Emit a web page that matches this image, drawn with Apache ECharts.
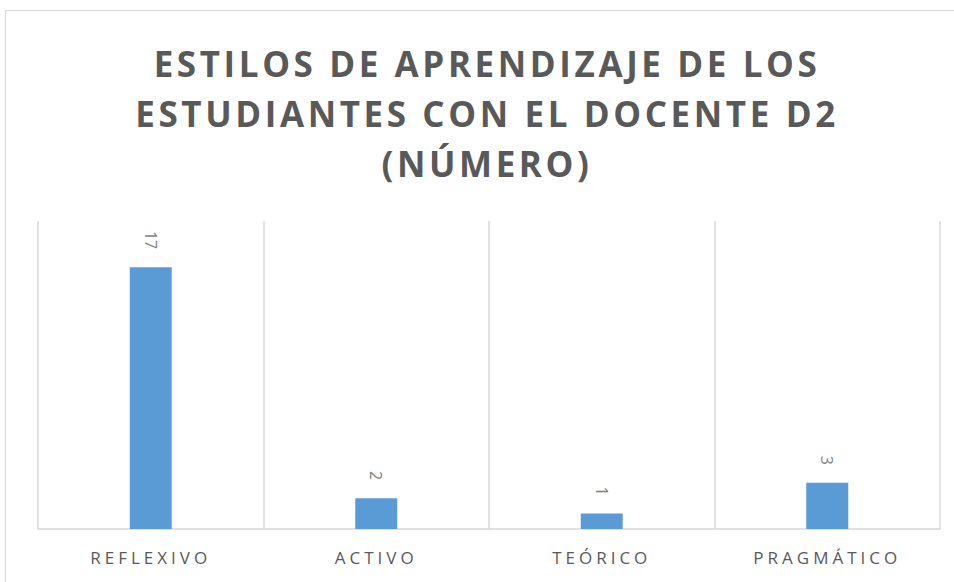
<!DOCTYPE html>
<html>
<head>
<meta charset="utf-8">
<script src="https://cdn.jsdelivr.net/npm/echarts@6/dist/echarts.min.js"></script>
<style>
html,body{margin:0;padding:0;background:#fff;}
#chart{width:954px;height:582px;}
</style>
</head>
<body>
<div id="chart"></div>
<script>
var categories = ['REFLEXIVO', 'ACTIVO', 'TEÓRICO', 'PRAGMÁTICO'];
var values = [17, 2, 1, 3];
var titleText = 'ESTILOS DE APRENDIZAJE DE LOS\nESTUDIANTES CON EL DOCENTE D2\n(NÚMERO)';

var chart = echarts.init(document.getElementById('chart'), null, {renderer: 'svg'});
chart.setOption({
    backgroundColor: '#fff',
    animation: false,
    graphic: [{
        type: 'rect',
        shape: {x: 5.5, y: 10.5, width: 960, height: 600},
        style: {fill: 'none', stroke: '#d9d9d9', lineWidth: 1},
        silent: true
    }],
    title: {
        text: titleText,
        left: 482,
        textAlign: 'center',
        top: 33,
        textStyle: {
            fontFamily: 'Open Sans',
            fontWeight: 'bold',
            fontSize: 35,
            lineHeight: 50,
            color: '#595959'
        }
    },
    grid: {left: 38, right: 14, top: 221, bottom: 53},
    xAxis: {
        type: 'category',
        data: categories,
        axisLine: {lineStyle: {color: '#d9d9d9', width: 1.5}},
        axisTick: {show: false},
        splitLine: {show: true, lineStyle: {color: '#d9d9d9', width: 1.5}},
        axisLabel: {
            color: '#595959',
            fontFamily: 'Open Sans',
            fontSize: 17,
            margin: 20
        }
    },
    yAxis: {
        type: 'value',
        min: 0,
        max: 20,
        show: false,
        splitLine: {show: false}
    },
    series: [{
        type: 'bar',
        data: values,
        barWidth: 42,
        itemStyle: {color: '#5b9bd5'},
        label: {
            show: true,
            position: 'top',
            rotate: -90,
            align: 'right',
            verticalAlign: 'middle',
            distance: 18,
            color: '#7f7f7f',
            fontFamily: 'Open Sans',
            fontSize: 16
        }
    }]
});

// espaciado de letras como en el original
function spacing() {
    var list = document.querySelectorAll('#chart svg text');
    for (var i = 0; i < list.length; i++) {
        var fs = parseFloat(getComputedStyle(list[i]).fontSize);
        if (fs >= 30) list[i].style.letterSpacing = '3.6px';
        else if (fs == 17) list[i].style.letterSpacing = '4px';
    }
}
chart.on('finished', spacing);
spacing();
</script>
</body>
</html>
